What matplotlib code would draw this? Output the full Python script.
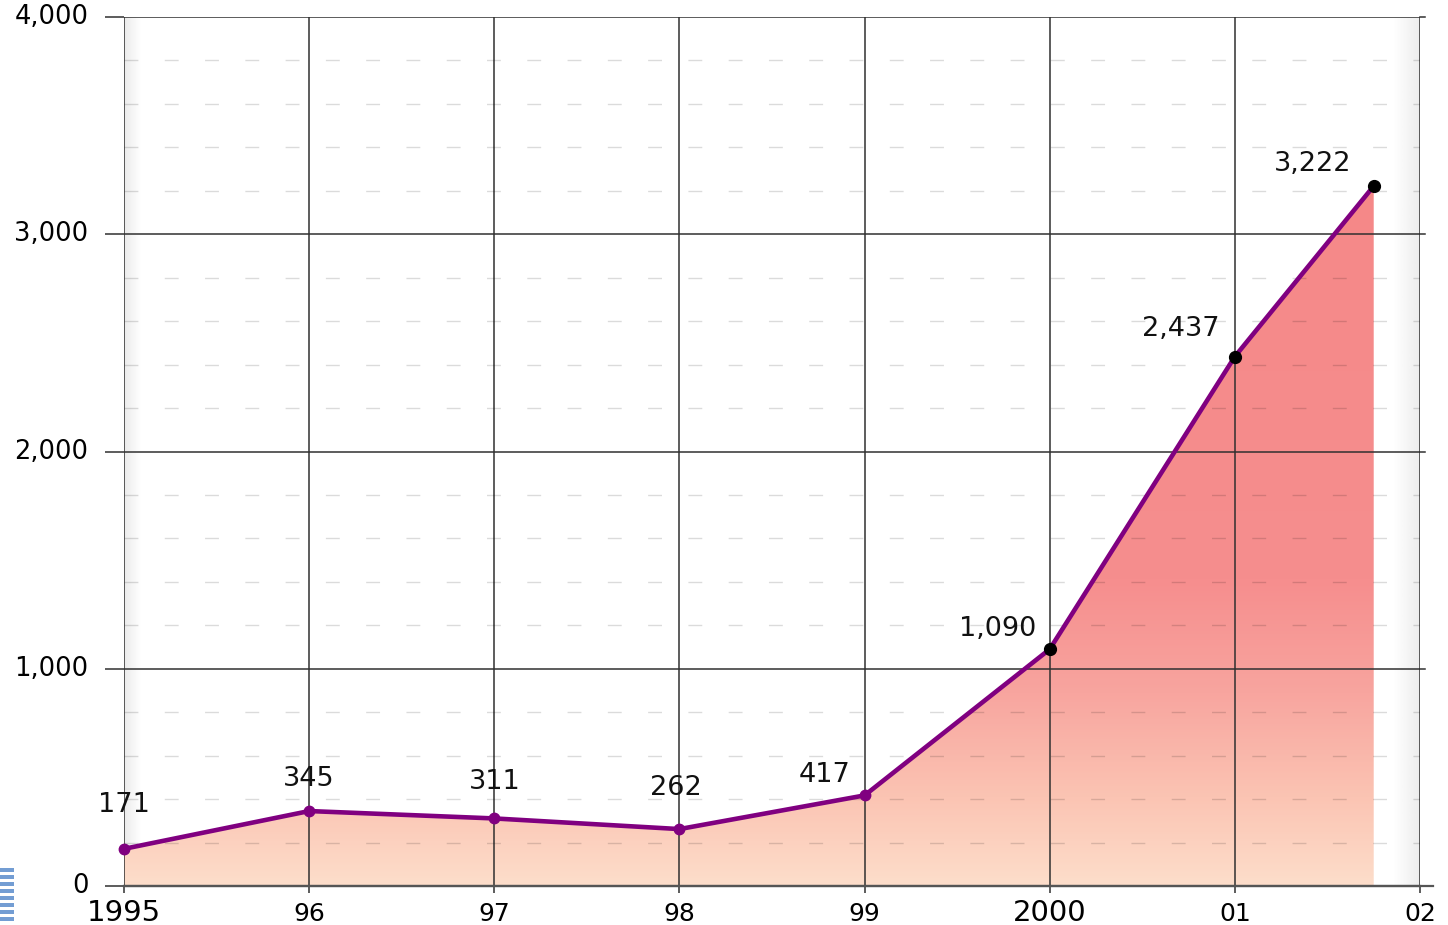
import numpy as np
import matplotlib
matplotlib.use("Agg")
import matplotlib.pyplot as plt
from matplotlib.colors import LinearSegmentedColormap
from matplotlib.patches import Polygon, Rectangle
from matplotlib.ticker import MultipleLocator

# ---- data ----
years = [1995, 1996, 1997, 1998, 1999, 2000, 2001, 2001.75]
values = [171, 345, 311, 262, 417, 1090, 2437, 3222]
value_labels = ["171", "345", "311", "262", "417", "1,090", "2,437", "3,222"]
x_ticks = [1995, 1996, 1997, 1998, 1999, 2000, 2001, 2002]
x_tick_labels = ["1995", "96", "97", "98", "99", "2000", "01", "02"]
y_ticks = [0, 1000, 2000, 3000, 4000]
y_tick_labels = ["0", "1,000", "2,000", "3,000", "4,000"]

# label offsets (pixels) relative to each point
label_offsets = [(0, 44), (0, 32), (0, 36), (-4, 41), (-40, 20), (-52, 20), (-54, 28), (-61, 22)]
marker_colors = ["#800080"] * 5 + ["#000000"] * 3

plt.rcParams["font.family"] = ["DejaVu Sans"]

W, H, DPI = 1448, 925, 100
fig = plt.figure(figsize=(W / DPI, H / DPI), dpi=DPI)
fig.patch.set_facecolor("white")
ax = fig.add_axes([124 / W, 1 - 886 / H, (1420 - 124) / W, (886 - 17) / H])

ax.set_xlim(1995, 2002)
ax.set_ylim(0, 4000)

# soft grey shading along the left and right plot edges
n = 1296
bg = np.ones(n)
xs = np.linspace(0, 1, n)
left_w, right_w = 0.013, 0.02
bg = np.where(xs < left_w, 0.92 + 0.08 * (xs / left_w), bg)
bg = np.where(xs > 1 - right_w, 0.93 + 0.07 * ((1 - xs) / right_w), bg)
ax.imshow(np.tile(bg, (2, 1)), cmap="gray", vmin=0, vmax=1, extent=[0, 1, 0, 1],
          transform=ax.transAxes, aspect="auto", zorder=0, interpolation="bilinear")

# gradient area under the line
fill_cmap = LinearSegmentedColormap.from_list(
    "peach_red",
    [(0.0, "#FDDDCA"), (0.10, "#FBC4B3"), (0.22, "#F8A59F"),
     (0.35, "#F68E8E"), (1.0, "#F58686")])
grad = np.linspace(0, 1, 400).reshape(-1, 1)
im = ax.imshow(grad, cmap=fill_cmap, vmin=0, vmax=1, origin="lower",
               extent=[years[0], years[-1], 0, 4000], aspect="auto",
               zorder=1, interpolation="bilinear")
poly_xy = np.column_stack([[years[0]] + years + [years[-1]],
                           [0] + values + [0]])
clip = Polygon(poly_xy, closed=True, transform=ax.transData, facecolor="none", edgecolor="none")
ax.add_patch(clip)
im.set_clip_path(clip)
ax.set_xlim(1995, 2002)
ax.set_ylim(0, 4000)

# grid
ax.set_axisbelow("line")
ax.set_xticks(x_ticks, x_tick_labels)
ax.set_yticks(y_ticks, y_tick_labels)
ax.yaxis.set_minor_locator(MultipleLocator(200))
ax.grid(which="major", color="#303030", linewidth=1.1)
ax.grid(which="minor", axis="y", color="black", alpha=0.14, linewidth=1.0,
        linestyle=(0, (10, 19)))

for s in ["top", "right", "left"]:
    ax.spines[s].set_visible(False)
ax.spines["bottom"].set_color("#555555")
ax.spines["bottom"].set_linewidth(1.6)
ax.spines["bottom"].set_zorder(5)
ax.axhline(0, xmin=0, xmax=1.01, color="#555555", linewidth=1.6, clip_on=False, zorder=5)
for yv in y_ticks[1:]:
    ax.axhline(yv, xmin=1, xmax=1.004, color="#303030", linewidth=1.1, clip_on=False)

ax.tick_params(axis="y", which="major", length=13.7, width=1.1, color="#303030",
               labelsize=18.5, pad=12)
ax.tick_params(axis="y", which="minor", length=0)
ax.tick_params(axis="x", which="major", length=5, width=1.1, color="#303030",
               labelsize=18, pad=20)
for lab in ax.get_yticklabels():
    lab.set_verticalalignment("center")
for lab in ax.get_xticklabels():
    lab.set_verticalalignment("baseline")
    if lab.get_text() in ("1995", "2000"):
        lab.set_fontsize(21)

# the line and its points
ax.plot(years, values, color="#800080", linewidth=3.3, zorder=3, solid_joinstyle="round")
for x, y, c in zip(years, values, marker_colors):
    ax.plot([x], [y], marker="o", markersize=7.5 if c != "#000000" else 8.5,
            color=c, zorder=4, clip_on=False)

for x, y, txt, (dx, dy) in zip(years, values, value_labels, label_offsets):
    ax.annotate(txt, (x, y), xytext=(dx, dy), textcoords="offset pixels",
                ha="center", va="center", fontsize=19.5, color="#111111", zorder=6)

# small blue emblem at the lower-left margin
for i in range(8):
    ytop = 868 + i * 7
    fig.add_artist(Rectangle((0, 1 - (ytop + 4) / H), 14 / W, 4 / H,
                             transform=fig.transFigure, facecolor="#5a8ccc",
                             edgecolor="none", alpha=0.85))

fig.savefig("out.png", dpi=DPI)
